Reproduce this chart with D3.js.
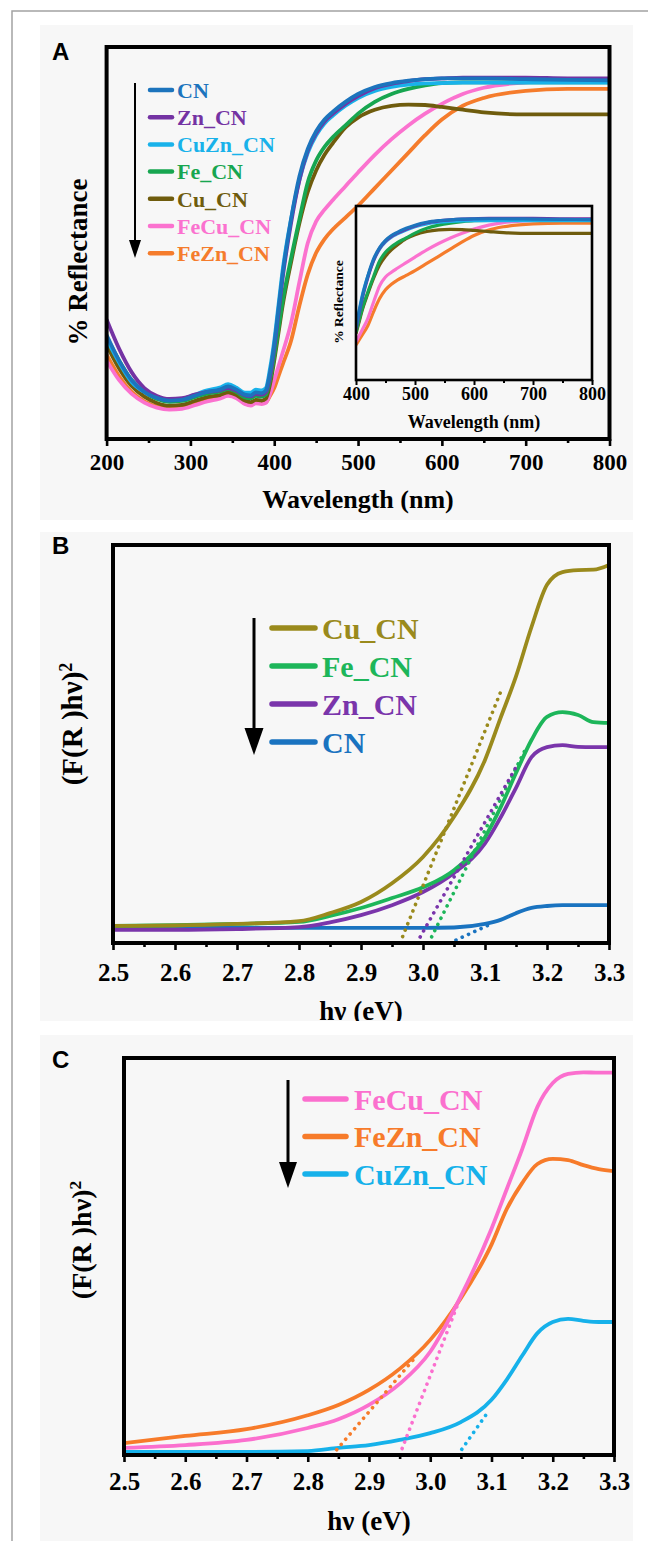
<!DOCTYPE html>
<html>
<head>
<meta charset="utf-8">
<script src="https://cdn.jsdelivr.net/npm/d3@7"></script>
<style>
  body { margin: 0; background: #fff; }
  svg { display: block; }
</style>
</head>
<body>
<svg id="drawing_region"></svg>
<script>
// ---- panel A : diffuse reflectance (%) ----
const wavelength = [200,215,230,245,260,275,290,305,320,335, 345,355,365,372,378,385,390,395,400,405,
                    410,420,430,440,450,460,470,485,500,520, 540,560,580,600,625,650,700,750,800];
const reflCN   = [26.5,20,15,12,10.5,9.8,10,11,12,12.6, 13.4,12.6,11.3,11.1,11.9,11.7,12.4,17,24,33,
                  42,56,67,74,78.5,81.5,83.5,86,88,89.8, 90.8,91.4,91.8,92,92,92,91.8,91.6,91.5];
const reflZn   = [30.5,23,17,13,11,10.2,10.4,11.3,12,12.4, 13,12.3,11.1,10.9,11.5,11.3,11.9,16,23,32,
                  41,55,66,73.5,78,81,83,85.5,87.5,89.5, 90.6,91.3,91.8,92,92.2,92.2,92.2,92,92];
const reflCuZn = [25.5,19.5,14.5,12,10.6,9.9,10.2,11.3,12.4,13.1, 14,13.1,11.8,11.8,12.6,12.4,13,18,25,34,
                  43,56,66,73,77.5,80.5,82.5,85,87,88.8, 89.8,90.4,90.7,90.8,90.9,90.9,90.9,90.9,90.9];
const reflFe   = [26,20,15,12,10.2,9.5,9.7,10.7,11.6,12.1, 12.7,12,10.6,10.4,11,10.8,11.3,15,21,28,
                  35,46,56,65.5,71,74.5,77,80,83,86, 88,89.3,90.2,90.8,91,91,91,91,91];
const reflCu   = [24,18,13.5,10.8,9.2,8.5,8.7,9.7,10.7,11.2, 11.9,11.2,9.8,9.4,10,9.8,10.3,14,20,27,
                  34,45,55,63,68.5,72.5,75.5,79.5,82,84, 85,85.3,85.2,84.7,84,83.3,82.8,82.8,82.8];
const reflFeCu = [20,15,11.5,9.3,8,7.5,7.7,8.6,9.6,10.3, 11,10.4,8.9,8.5,9.1,8.9,9.2,11.5,15,18.5,
                  22,29.5,40,50,55.5,58.5,61,64.5,68,72.5, 76.5,80,83,85.5,88,89.6,91,91.5,91.7];
const reflFeZn = [21.5,16,12,9.6,8.3,7.9,8.1,9,10,10.6, 11.3,10.7,9.1,8.7,9.3,9.1,9.4,11,13,16,
                  19,25,34,42,47.5,51,53.5,56.5,59.5,64, 68.5,73,77.5,81.5,85,87,88.8,89.3,89.3];
const namesA  = ['CN','Zn_CN','CuZn_CN','Fe_CN','Cu_CN','FeCu_CN','FeZn_CN'];
const colorsA = ['#1c74bd','#7433a3','#19b2ea','#17a650','#6f5c0d','#fb72cf','#f57c2c'];
const ticksWavelength = [200,300,400,500,600,700,800];
const ticksInset = [400,500,600,700,800];

// ---- panels B and C : Tauc plots (F(R)hv)^2, arbitrary units ----
const energy = [2.5,2.6,2.7,2.8,2.85,2.9,2.95,3.0,3.05,3.1,3.125,3.15,3.175,3.2,3.225,3.25,3.275,3.3];
const taucCu   = [4.3,4.4,4.8,5.5,7.5,10.3,15,21.6,31.7,46,56.5,67,79.4,90,93.2,93.7,93.8,95];
const taucFe   = [4.3,4.5,4.8,5.3,6.8,8.8,11.3,14,18.3,26.6,34,42.7,51,56.8,58,57.3,55.5,55.3];
const taucZn   = [3.3,3.3,3.5,4,5.2,7,9.5,12.8,17.6,25,31.5,39,46.7,49.2,49.7,49.3,49.2,49.2];
const taucCN   = [3.8,3.8,3.8,3.8,3.8,3.8,3.8,3.8,3.9,4.8,5.8,7.5,8.8,9.3,9.5,9.5,9.5,9.5];
const fitCu = [[2.963,0],[3.125,63]];
const fitFe = [[3.009,0],[3.165,48.6]];
const fitZn = [[2.99,0],[3.153,45]];
const fitCN = [[3.043,0],[3.113,5]];
const namesB  = ['Cu_CN','Fe_CN','Zn_CN','CN'];
const colorsB = ['#9a8a1c','#1db65a','#7a35ab','#1a73c0'];

const taucFeCu = [1.8,2.5,3.8,6.8,9,12.6,17.9,26,40,57,67,77,87.7,93.7,96,96.4,96.3,96.3];
const taucFeZn = [3,4.8,6.5,10,12.6,16.4,21.7,29,39.5,53,62,68.5,73.3,74.6,74.3,73,72,71.5];
const taucCuZn = [0.8,0.8,0.8,1,1.8,2.5,3.8,5.5,8.3,13.9,19,25,30.7,33.5,34.3,33.8,33.5,33.5];
const fitFeCu = [[2.95,0],[3.045,38]];
const fitFeZn = [[2.84,0],[2.978,25]];
const fitCuZn = [[3.045,0],[3.095,11]];
const namesC  = ['FeCu_CN','FeZn_CN','CuZn_CN'];
const colorsC = ['#fb6fce','#f77b2a','#16b1ea'];
const ticksEnergy = [2.5,2.6,2.7,2.8,2.9,3.0,3.1,3.2,3.3];

const SERIF = '"Liberation Serif", "Times New Roman", serif';
const BG = '#f7f7f7';

const svg = d3.select('#drawing_region').attr('width', 648).attr('height', 1541);
svg.append('path').attr('d', 'M12,1541V11H648')
    .attr('fill', 'none').attr('stroke', '#a3a3a3').attr('stroke-width', 1.5);

class Panel {

    constructor( config, series ) {
        this.config = config;
        this.series = series;
        this.init();
    }

    init() {
        let self = this;
        const c = self.config;
        self.g = d3.select( c.parent ).append('g');
        self.x = d3.scaleLinear().domain( c.xdomain ).range([ c.left, c.right ]);
        self.y = d3.scaleLinear().domain( c.ydomain ).range([ c.bottom, c.top ]);
        self.line = d3.line()
            .x( d => self.x(d[0]) )
            .y( d => self.y(d[1]) )
            .curve( d3.curveMonotoneX );
        self.fitline = d3.line().x( d => self.x(d[0]) ).y( d => self.y(d[1]) );
    }

    render() {
        let self = this;
        const c = self.config;

        if ( c.bg ) {
            self.g.append('clipPath').attr('id', 'panel-' + c.id)
                .append('rect').attr('x', c.bg[0]).attr('y', c.bg[1]).attr('width', c.bg[2]).attr('height', c.bg[3]);
            self.g.attr('clip-path', `url(#panel-${c.id})`);
            self.g.append('rect').attr('x', c.bg[0]).attr('y', c.bg[1])
                .attr('width', c.bg[2]).attr('height', c.bg[3]).attr('fill', BG);
        }
        if ( c.fill ) {
            self.g.append('rect').attr('x', c.left).attr('y', c.top)
                .attr('width', c.right - c.left).attr('height', c.bottom - c.top).attr('fill', BG);
        }

        self.g.append('clipPath').attr('id', 'plot-' + c.id)
            .append('rect').attr('x', c.left).attr('y', c.top)
            .attr('width', c.right - c.left).attr('height', c.bottom - c.top);
        const plot = self.g.append('g').attr('clip-path', `url(#plot-${c.id})`);

        plot.selectAll('path.curve')
            .data( self.series.slice().reverse() )
            .join('path')
            .attr('class', 'curve')
            .attr('d', s => self.line( s.points.filter( p => p[0] >= c.xdomain[0] ) ))
            .attr('fill', 'none')
            .attr('stroke', s => s.color)
            .attr('stroke-width', c.lineWidth)
            .attr('stroke-linejoin', 'round');

        plot.selectAll('path.fit')
            .data( self.series.filter( s => s.fit ) )
            .join('path')
            .attr('class', 'fit')
            .attr('d', s => self.fitline( s.fit ))
            .attr('fill', 'none')
            .attr('stroke', s => s.color)
            .attr('stroke-width', 3.6)
            .attr('stroke-linecap', 'round')
            .attr('stroke-dasharray', '0.1 6.8');

        self.g.append('rect').attr('x', c.left).attr('y', c.top)
            .attr('width', c.right - c.left).attr('height', c.bottom - c.top)
            .attr('fill', 'none').attr('stroke', '#000').attr('stroke-width', c.frameWidth);

        // bottom axis: minor ticks between labelled ones
        const minor = d3.pairs( c.ticks ).map( p => (p[0] + p[1]) / 2 );
        const axMinor = self.g.append('g').attr('transform', `translate(0,${c.bottom})`)
            .call( d3.axisBottom( self.x ).tickValues( minor ).tickSize( c.minorSize ).tickFormat('') );
        const axMajor = self.g.append('g').attr('transform', `translate(0,${c.bottom})`)
            .call( d3.axisBottom( self.x ).tickValues( c.ticks ).tickSize( c.majorSize )
                   .tickPadding( c.pad ).tickFormat( c.format ) );
        [axMinor, axMajor].forEach( ax => {
            ax.attr('font-family', SERIF).attr('font-size', c.tickFont).attr('font-weight', 'bold');
            ax.select('.domain').remove();
            ax.selectAll('line').attr('stroke', '#000').attr('stroke-width', c.tickWidth);
        });
        axMajor.selectAll('text')
            .attr('fill', '#000')
            .style('font-family', SERIF).style('font-weight', 'bold').style('font-size', c.tickFont + 'px');

        self.g.append('text')
            .attr('x', (c.left + c.right) / 2).attr('y', c.xlabelY)
            .attr('text-anchor', 'middle')
            .style('font-family', SERIF).style('font-weight', 'bold').style('font-size', c.labelFont + 'px')
            .text( c.xlabel );

        const yl = self.g.append('text')
            .attr('transform', `translate(${c.ylabelX},${c.ylabelY}) rotate(-90)`)
            .attr('text-anchor', 'middle').attr('dy', '0.35em')
            .style('font-family', SERIF).style('font-weight', 'bold').style('font-size', c.ylabelFont + 'px');
        yl.append('tspan').text( c.ylabel );
        if ( c.ylabelSup ) {
            yl.append('tspan').attr('dy', '-0.55em').style('font-size', (c.ylabelFont * 0.62) + 'px').text( c.ylabelSup );
        }

        if ( c.letter ) {
            self.g.append('text').attr('x', c.letter[1]).attr('y', c.letter[2])
                .style('font-family', '"Liberation Sans", Arial, sans-serif')
                .style('font-weight', 'bold').style('font-size', '24px')
                .text( c.letter[0] );
        }

        if ( c.legend ) self.renderLegend();
    }

    renderLegend() {
        let self = this;
        const L = self.config.legend;
        const lg = self.g.append('g');
        const rowY = d3.scalePoint().domain( self.series.map( s => s.name ) )
            .range([ L.y0, L.y0 + L.step * (self.series.length - 1) ]);

        lg.append('line')
            .attr('x1', L.arrowX).attr('x2', L.arrowX)
            .attr('y1', L.arrowTop).attr('y2', L.arrowTip - L.headH + 2)
            .attr('stroke', '#000').attr('stroke-width', L.arrowWidth);
        lg.append('path')
            .attr('d', `M${L.arrowX - L.headW / 2},${L.arrowTip - L.headH}L${L.arrowX + L.headW / 2},${L.arrowTip - L.headH}L${L.arrowX},${L.arrowTip}Z`)
            .attr('fill', '#000');

        const rows = lg.selectAll('g.row').data( self.series ).join('g').attr('class', 'row');
        rows.append('line')
            .attr('x1', L.x0).attr('x2', L.x1)
            .attr('y1', s => rowY(s.name)).attr('y2', s => rowY(s.name))
            .attr('stroke', s => s.color).attr('stroke-width', L.lineWidth).attr('stroke-linecap', 'round');
        rows.append('text')
            .attr('x', L.textX).attr('y', s => rowY(s.name)).attr('dy', '0.35em')
            .attr('fill', s => s.color)
            .style('font-family', SERIF).style('font-weight', 'bold').style('font-size', L.font + 'px')
            .text( s => s.name );
    }
}

const seriesA = [reflCN, reflZn, reflCuZn, reflFe, reflCu, reflFeCu, reflFeZn].map( (v, i) => ({
    name: namesA[i], color: colorsA[i], points: d3.zip( wavelength, v )
}));
const seriesB = [taucCu, taucFe, taucZn, taucCN].map( (v, i) => ({
    name: namesB[i], color: colorsB[i], points: d3.zip( energy, v ), fit: [fitCu, fitFe, fitZn, fitCN][i]
}));
const seriesC = [taucFeCu, taucFeZn, taucCuZn].map( (v, i) => ({
    name: namesC[i], color: colorsC[i], points: d3.zip( energy, v ), fit: [fitFeCu, fitFeZn, fitCuZn][i]
}));

const common = { parent: '#drawing_region', frameWidth: 4, tickWidth: 2.6, minorSize: 4, majorSize: 7, lineWidth: 3.8 };

new Panel( Object.assign({}, common, {
    id: 'A', bg: [40, 25, 593, 495], letter: ['A', 52, 60],
    left: 106.6, right: 609.5, top: 47, bottom: 439,
    xdomain: [200, 800], ydomain: [0, 100], ticks: ticksWavelength, format: d3.format('d'),
    pad: 7.5, tickFont: 23,
    xlabel: 'Wavelength (nm)', xlabelY: 508, labelFont: 26,
    ylabel: '% Reflectance', ylabelX: 78, ylabelY: 262, ylabelFont: 27,
    legend: { arrowX: 135, arrowTop: 83, arrowTip: 258, headW: 12, headH: 18, arrowWidth: 2,
              x0: 150, x1: 172, textX: 177, y0: 90, step: 27.2, font: 22, lineWidth: 4.5 }
}), seriesA ).render();

new Panel( Object.assign({}, common, {
    id: 'inset', fill: true,
    left: 356, right: 592, top: 206, bottom: 380, frameWidth: 2.6, tickWidth: 2, minorSize: 3, majorSize: 5,
    lineWidth: 3.2,
    xdomain: [400, 800], ydomain: [-9, 100], ticks: ticksInset, format: d3.format('d'),
    pad: 2.5, tickFont: 18,
    xlabel: 'Wavelength (nm)', xlabelY: 428, labelFont: 18,
    ylabel: '% Reflectance', ylabelX: 338, ylabelY: 302, ylabelFont: 13.5
}), seriesA ).render();

new Panel( Object.assign({}, common, {
    id: 'B', bg: [40, 532, 593, 489], letter: ['B', 52, 554],
    left: 113, right: 609, top: 545, bottom: 943,
    xdomain: [2.5, 3.3], ydomain: [0, 100], ticks: ticksEnergy, format: d3.format('.1f'),
    pad: 13, tickFont: 25,
    xlabel: 'h\u03bd (eV)', xlabelY: 1020, labelFont: 27,
    ylabel: '(F(R )h\u03bd)', ylabelSup: '2', ylabelX: 72, ylabelY: 724, ylabelFont: 29,
    legend: { arrowX: 254, arrowTop: 618, arrowTip: 755, headW: 19, headH: 27, arrowWidth: 3,
              x0: 272, x1: 315, textX: 322, y0: 628, step: 38, font: 30, lineWidth: 5.5 }
}), seriesB ).render();

new Panel( Object.assign({}, common, {
    id: 'C', bg: [40, 1035, 593, 506], letter: ['C', 52, 1068],
    left: 124, right: 614, top: 1058, bottom: 1455,
    xdomain: [2.5, 3.3], ydomain: [0, 100], ticks: ticksEnergy, format: d3.format('.1f'),
    pad: 10.7, tickFont: 25,
    xlabel: 'h\u03bd (eV)', xlabelY: 1530, labelFont: 27,
    ylabel: '(F(R )h\u03bd)', ylabelSup: '2', ylabelX: 81, ylabelY: 1240, ylabelFont: 28,
    legend: { arrowX: 288, arrowTop: 1080, arrowTip: 1188, headW: 18, headH: 26, arrowWidth: 3,
              x0: 305, x1: 346, textX: 354, y0: 1099, step: 37.5, font: 30, lineWidth: 5.5 }
}), seriesC ).render();
</script>
</body>
</html>
